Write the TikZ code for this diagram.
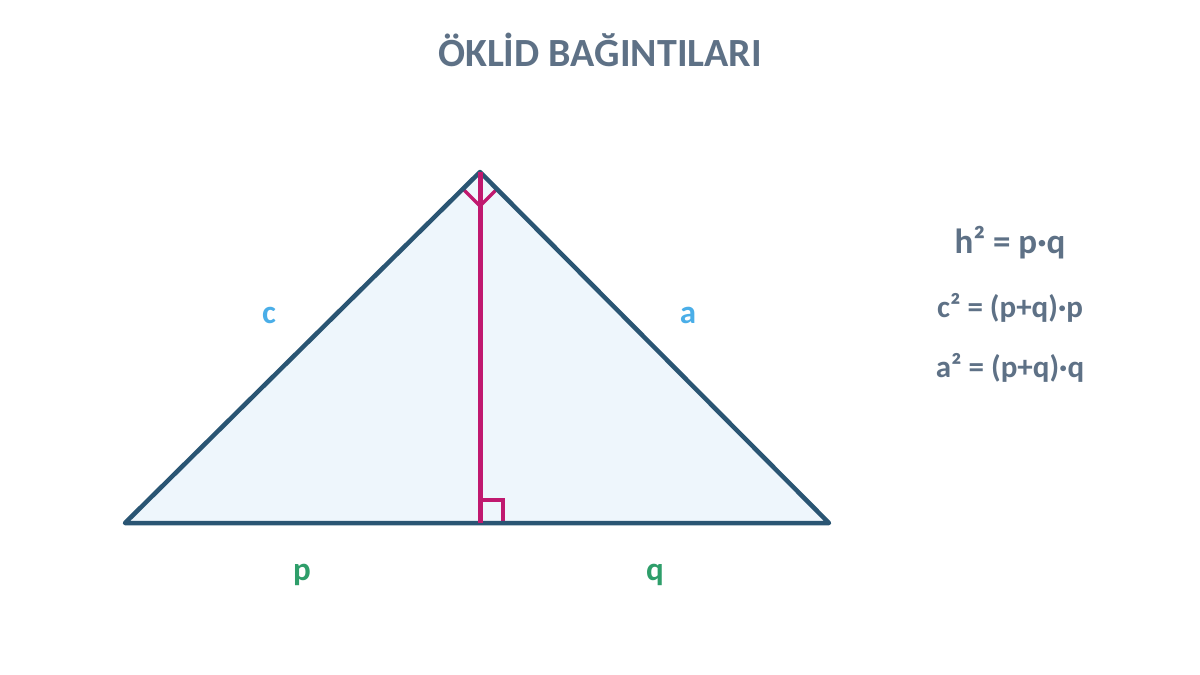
\documentclass[tikz,border=0pt]{standalone}
\usepackage{fontspec}
\setmainfont{Carlito}
\usetikzlibrary{calc}
\definecolor{titlec}{HTML}{5E7186}
\definecolor{edge}{HTML}{2A5573}
\definecolor{fillc}{HTML}{EEF6FC}
\definecolor{alt}{HTML}{C0196F}
\definecolor{sidec}{HTML}{4AAEE8}
\definecolor{segc}{HTML}{2E9E6A}
\tikzset{
  sidelbl/.style={text=sidec,font=\fontsize{33}{36}\selectfont\bfseries},
  seglbl/.style={text=segc,font=\fontsize{33}{36}\selectfont\bfseries},
  formula/.style={text=titlec,font=\fontsize{31}{34}\selectfont\bfseries},
  anglemark/.style={alt,line width=3.3pt},
}
\begin{document}
\begin{tikzpicture}[x=1pt,y=-1pt]
\useasboundingbox[fill=white] (0,0) rectangle (1200,675);
\node[text=titlec,font=\fontsize{40}{44}\selectfont\bfseries] (title) at (600,50) {ÖKLİD BAĞINTILARI};
\coordinate (A) at (125,523);
\coordinate (B) at (829,523);
\coordinate (C) at (480,172);
\coordinate (H) at (480,523);
\fill[fillc] (A) -- (B) -- (C) -- cycle;
\draw[anglemark] ($(C)+(-17,17)$) -- ($(C)+(0,34)$) -- ($(C)+(17,17)$);
\draw[anglemark] ($(H)+(0,-23)$) -- ($(H)+(23,-23)$) -- ($(H)+(23,0)$);
\draw[edge,line width=4.5pt,line join=round,line cap=round] (A) -- (B) -- (C) -- cycle;
\draw[alt,line width=5pt] (C) -- (H);
\node[sidelbl] (lc) at (269,315) {c};
\node[sidelbl] (la) at (688,315) {a};
\node[seglbl] (lp) at (302,575) {p};
\node[seglbl] (lq) at (655,575) {q};
\node[formula,font=\fontsize{35}{38}\selectfont\bfseries] (f1) at (1010,243) {h² = p·q};
\node[formula] (f2) at (1010,308) {c² = (p+q)·p};
\node[formula] (f3) at (1010,368) {a² = (p+q)·q};
\end{tikzpicture}
\end{document}
